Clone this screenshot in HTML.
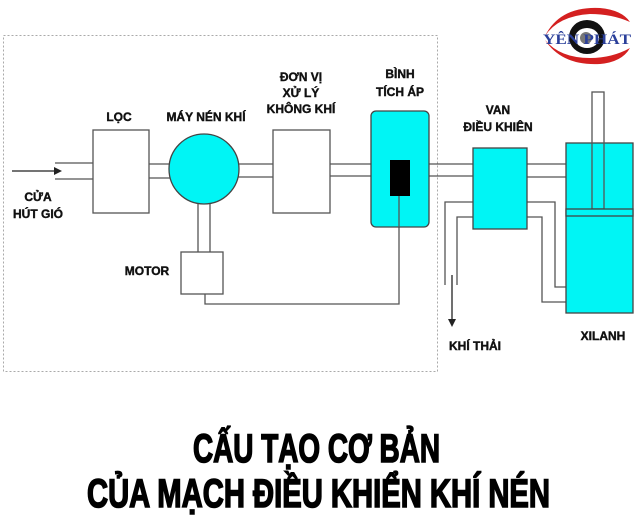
<!DOCTYPE html>
<html><head><meta charset="utf-8"><style>
html,body{margin:0;padding:0;background:#fff;width:640px;height:530px;overflow:hidden}
svg{display:block}
.l{font-family:"Liberation Sans Narrow","Liberation Sans",sans-serif;font-weight:bold;font-size:12px;fill:#111;stroke:#111;stroke-width:0.4;text-anchor:middle}
.t{font-family:"Liberation Sans Narrow","Liberation Sans",sans-serif;font-weight:bold;font-size:40px;fill:#000;stroke:#000;stroke-width:1.6}
</style></head><body>
<svg width="640" height="530" viewBox="0 0 640 530" xmlns="http://www.w3.org/2000/svg">
<rect x="3.5" y="35.5" width="434" height="336" fill="none" stroke="#aaa" stroke-dasharray="2,2"/>
<g stroke="#555" stroke-width="1.3" fill="none">
<line x1="55" y1="163" x2="93" y2="163"/><line x1="55" y1="179" x2="93" y2="179"/>
<line x1="149" y1="164" x2="172" y2="164"/><line x1="149" y1="178" x2="172" y2="178"/>
<line x1="238" y1="164" x2="273" y2="164"/><line x1="238" y1="177" x2="273" y2="177"/>
<line x1="330" y1="164" x2="371" y2="164"/><line x1="330" y1="176" x2="371" y2="176"/>
<line x1="429" y1="164" x2="473" y2="164"/><line x1="429" y1="176" x2="473" y2="176"/>
<line x1="527" y1="164" x2="566" y2="164"/><line x1="527" y1="177" x2="566" y2="177"/>
<line x1="198" y1="204" x2="198" y2="252"/><line x1="210" y1="204" x2="210" y2="252"/>
<polyline points="527,202 555,202 555,287 566,287"/>
<polyline points="527,217 542,217 542,302 566,302"/>
<polyline points="473,202 445,202 445,285"/>
<polyline points="473,217 457,217 457,285"/>
<polyline points="399,196 399,304 205,304 205,294"/>
</g>
<line x1="12" y1="171" x2="58" y2="171" stroke="#222" stroke-width="1.3"/>
<polygon points="62,171 54,167 54,175" fill="#222"/>
<line x1="452" y1="275" x2="452" y2="322" stroke="#222" stroke-width="1.3"/>
<polygon points="452,327 448,319 456,319" fill="#222"/>
<rect x="93" y="130" width="56" height="83" fill="#fff" stroke="#555" stroke-width="1.3"/>
<circle cx="204" cy="169" r="35" fill="#00f5f5" stroke="#444" stroke-width="1.3"/>
<rect x="273" y="130" width="57" height="83" fill="#fff" stroke="#555" stroke-width="1.3"/>
<rect x="181" y="252" width="42" height="42" fill="#fff" stroke="#555" stroke-width="1.3"/>
<rect x="371" y="111" width="58" height="116" rx="5" fill="#00f5f5" stroke="#444" stroke-width="1.3"/>
<rect x="390" y="160" width="20" height="36" fill="#000"/>
<line x1="399" y1="196" x2="399" y2="227" stroke="#555" stroke-width="1.3"/>
<rect x="473" y="148" width="54" height="81" fill="#00f5f5" stroke="#444" stroke-width="1.3"/>
<rect x="566" y="143" width="67" height="170" fill="#00f5f5" stroke="#444" stroke-width="1.3"/>
<rect x="592" y="92" width="12" height="117" fill="none" stroke="#555" stroke-width="1.3"/>
<rect x="566" y="209" width="67" height="7" fill="#00f5f5" stroke="#444" stroke-width="1.3"/>
<text class="l" x="119" y="121">LỌC</text>
<text class="l" x="206" y="121">MÁY NÉN KHÍ</text>
<text class="l" x="301" y="81">ĐƠN VỊ</text>
<text class="l" x="301" y="97">XỬ LÝ</text>
<text class="l" x="301" y="113">KHÔNG KHÍ</text>
<text class="l" x="400" y="78">BÌNH</text>
<text class="l" x="400" y="96">TÍCH ÁP</text>
<text class="l" x="498" y="114">VAN</text>
<text class="l" x="498" y="131">ĐIỀU KHIÊN</text>
<text class="l" x="38" y="201">CỬA</text>
<text class="l" x="38" y="218">HÚT GIÓ</text>
<text class="l" x="147" y="275">MOTOR</text>
<text class="l" x="475" y="350">KHÍ THẢI</text>
<text class="l" x="603" y="340">XILANH</text>
<!-- logo -->
<path d="M545,36 Q560,6 600,8 Q622,10 630,22 Q612,14 590,14 Q558,16 545,36Z" fill="#d42020"/>
<path d="M545,40 Q562,66 600,64 Q622,62 630,48 Q612,58 590,58 Q560,58 545,40Z" fill="#d42020"/>
<ellipse cx="587" cy="37" rx="18" ry="17" fill="#111"/>
<ellipse cx="587" cy="38" rx="12" ry="10" fill="#fff"/>
<circle cx="586" cy="38" r="6" fill="#777"/>
<text x="587" y="44" font-family="Liberation Serif,serif" font-weight="bold" font-size="15" fill="#2a3f9a" text-anchor="middle" textLength="88" lengthAdjust="spacingAndGlyphs">YÊN PHÁT</text>
<text class="t" x="193" y="462" textLength="247" lengthAdjust="spacingAndGlyphs">CẤU TẠO CƠ BẢN</text>
<text class="t" x="87" y="507" textLength="463" lengthAdjust="spacingAndGlyphs">CỦA MẠCH ĐIỀU KHIỂN KHÍ NÉN</text>
</svg>
</body></html>
